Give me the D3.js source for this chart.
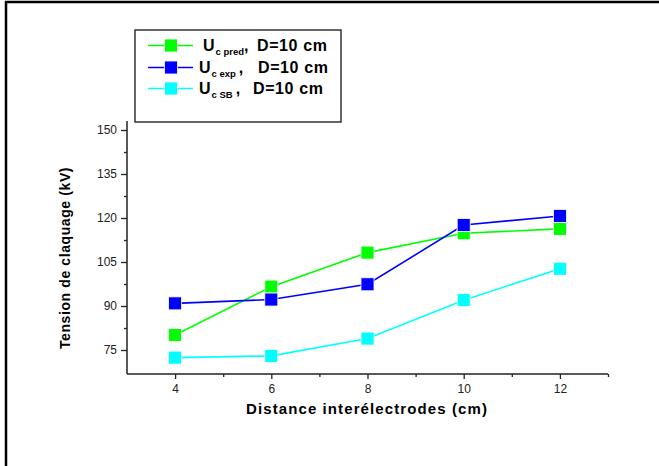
<!DOCTYPE html>
<html><head><meta charset="utf-8">
<script src="https://cdn.jsdelivr.net/npm/d3@7"></script>
<style>body{margin:0;background:#fff}svg{display:block}text{font-family:"Liberation Sans",Arial,sans-serif}</style>
</head><body>
<script>
const distances = [4, 6, 8, 10, 12];
const ucPred = [80.1, 96.6, 108.2, 114.8, 116.3];
const ucExp = [90.9, 92.2, 97.4, 117.6, 120.7];
const ucSB = [72.4, 73.0, 78.9, 92.0, 102.7];
const xTicks = [4, 6, 8, 10, 12];
const yTicks = [75, 90, 105, 120, 135, 150];
const seriesNames = ["pred", "exp", "SB"];
const seriesColors = ["#00ff00", "#0000ff", "#00ffff"];

const W = 659, H = 466;
const svg = d3.select("body").append("svg").attr("width", W).attr("height", H);

// outer frame (top & left edges)
svg.append("line").attr("x1", 5).attr("x2", W).attr("y1", 2).attr("y2", 2).attr("stroke", "#000").attr("stroke-width", 2.5);
svg.append("line").attr("x1", 6).attr("x2", 6).attr("y1", 1).attr("y2", H).attr("stroke", "#000").attr("stroke-width", 2.5);

const x = d3.scaleLinear().domain([3, 13]).range([127, 608]);
const y = d3.scaleLinear().domain([75, 150]).range([350, 130]);
const y0 = y.invert(374), y1 = y.invert(121);
y.domain([y0, y1]).range([374, 121]);

const axisColor = "#222";
// x axis
const gx = svg.append("g").attr("transform", "translate(0,374)");
gx.append("line").attr("x1", 127).attr("x2", 608).attr("stroke", axisColor).attr("stroke-width", 1.5);
gx.call(g => {
  const ax = d3.axisBottom(x).tickValues(xTicks).tickSize(5).tickPadding(5).tickFormat(d3.format("d"));
  const sub = g.append("g").call(ax);
  sub.select(".domain").remove();
  sub.selectAll("line").attr("stroke", axisColor).attr("stroke-width", 1.3);
  sub.selectAll("text").attr("font-size", 12).attr("fill", "#222");
  const mn = g.append("g").call(d3.axisBottom(x).tickValues([5, 7, 9, 11, 13]).tickSize(3).tickFormat(""));
  mn.select(".domain").remove();
  mn.selectAll("line").attr("stroke", axisColor).attr("stroke-width", 1.3);
});
// y axis
const gy = svg.append("g").attr("transform", "translate(127,0)");
gy.append("line").attr("y1", 121).attr("y2", 374).attr("stroke", axisColor).attr("stroke-width", 1.5);
{
  const sub = gy.append("g").call(d3.axisLeft(y).tickValues(yTicks).tickSize(6).tickPadding(4));
  sub.select(".domain").remove();
  sub.selectAll("line").attr("stroke", axisColor).attr("stroke-width", 1.3);
  sub.selectAll("text").attr("font-size", 12).attr("fill", "#222");
  const mn = gy.append("g").call(d3.axisLeft(y).tickValues([82.5, 97.5, 112.5, 127.5, 142.5]).tickSize(3).tickFormat(""));
  mn.select(".domain").remove();
  mn.selectAll("line").attr("stroke", axisColor).attr("stroke-width", 1.3);
}

// axis titles
svg.append("text").attr("x", 367).attr("y", 414).attr("text-anchor", "middle")
  .attr("font-size", 15).attr("font-weight", "bold").attr("letter-spacing", 1.1).text("Distance interélectrodes (cm)");
svg.append("text").attr("transform", "translate(70,258) rotate(-90)").attr("text-anchor", "middle")
  .attr("font-size", 14).attr("font-weight", "bold").attr("letter-spacing", 0.6).text("Tension de claquage (kV)");

// series
const data = [ucPred, ucExp, ucSB];
const line = d3.line().x((d, i) => x(distances[i])).y(d => y(d));
data.forEach((vals, s) => {
  svg.append("path").attr("d", line(vals)).attr("fill", "none").attr("stroke", seriesColors[s]).attr("stroke-width", 1.6);
});
const ms = 13;
data.forEach((vals, s) => {
  svg.append("g").selectAll("rect").data(vals).join("rect")
    .attr("x", (d, i) => x(distances[i]) - ms / 2).attr("y", d => y(d) - ms / 2)
    .attr("width", ms).attr("height", ms).attr("fill", seriesColors[s])
    .attr("stroke", "#fff").attr("stroke-width", 0.8);
});

// legend
const lg = svg.append("g");
lg.append("rect").attr("x", 135).attr("y", 30).attr("width", 206).attr("height", 92)
  .attr("fill", "#fff").attr("stroke", "#333").attr("stroke-width", 1.5);
const rowsY = [45.5, 67.5, 88.5];
const uX = [203, 199, 199];
const dX = [257, 258, 253];
seriesNames.forEach((nm, s) => {
  const cy = rowsY[s];
  lg.append("line").attr("x1", 148).attr("x2", 193).attr("y1", cy).attr("y2", cy).attr("stroke", seriesColors[s]).attr("stroke-width", 1.6);
  lg.append("rect").attr("x", 171 - ms / 2).attr("y", cy - ms / 2).attr("width", ms).attr("height", ms)
    .attr("fill", seriesColors[s]).attr("stroke", "#fff").attr("stroke-width", 0.8);
  const t = lg.append("text").attr("x", uX[s]).attr("y", cy + 5.5).attr("font-weight", "bold").attr("font-size", 16);
  t.append("tspan").text("U");
  t.append("tspan").attr("font-size", 9.5).attr("dy", 4).attr("dx", 1).text("c " + nm);
  if (s === 0) t.append("tspan").attr("dy", -4).text(",");
  else t.append("tspan").attr("dy", -4).attr("dx", 3).text(",");
  lg.append("text").attr("x", dX[s]).attr("y", cy + 5.5).attr("font-weight", "bold").attr("font-size", 16)
    .attr("letter-spacing", 0.6).text("D=10 cm");
});
</script>
</body></html>
